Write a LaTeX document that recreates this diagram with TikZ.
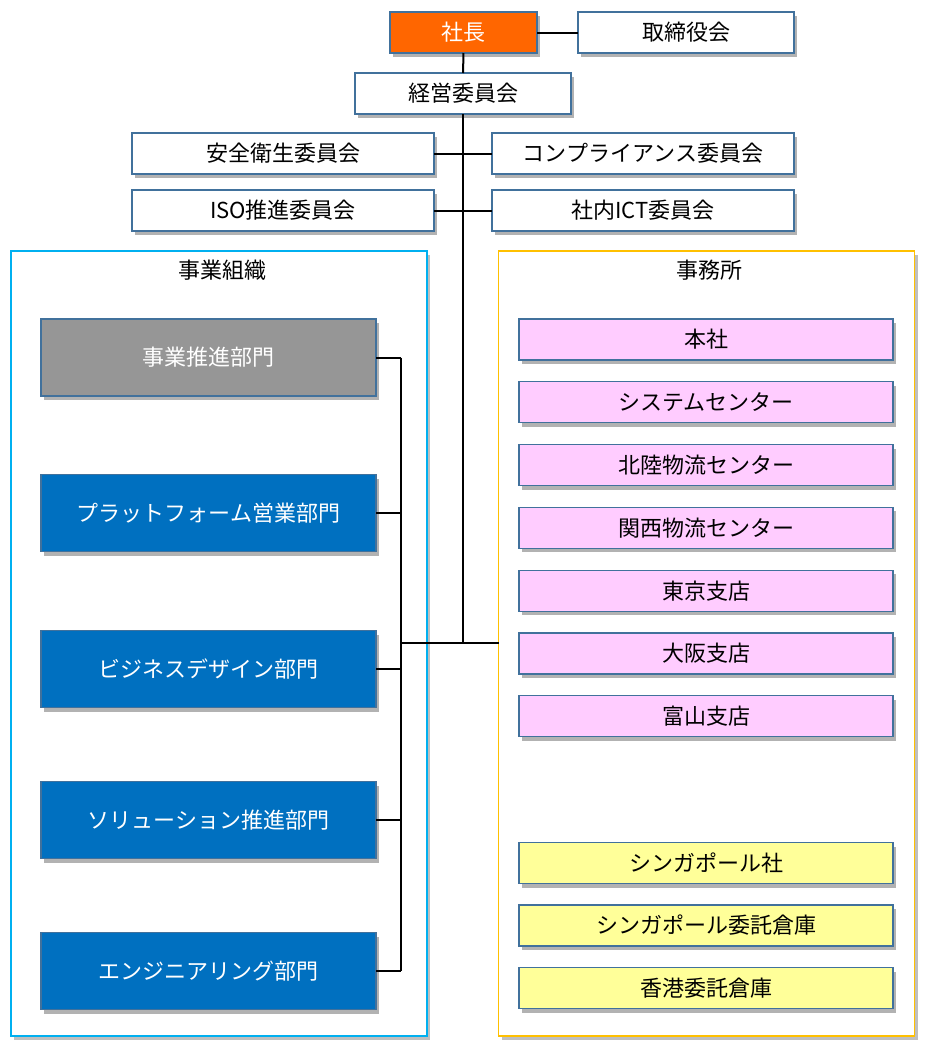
\documentclass[tikz,border=0pt]{standalone}
\usepackage{fontspec}
\setmainfont{Noto Sans CJK JP}
\usetikzlibrary{shadows}
\definecolor{bordoBlu}{RGB}{65, 113, 156}
\definecolor{arancio}{RGB}{255, 102, 0}
\definecolor{grigioBox}{RGB}{150, 150, 150}
\definecolor{bluBox}{RGB}{0, 112, 192}
\definecolor{rosaBox}{RGB}{255, 204, 255}
\definecolor{gialloBox}{RGB}{255, 255, 153}
\definecolor{ciano}{RGB}{0, 176, 240}
\definecolor{oro}{RGB}{255, 192, 0}

\begin{document}
\begin{tikzpicture}[x=1pt, y=-1pt,
    box/.style={draw=bordoBlu, line width=1.3pt, fill=white, inner sep=0pt, outer sep=0pt,
        minimum height=41pt, font=\fontsize{22}{25}\selectfont,
        drop shadow={shadow xshift=3pt, shadow yshift=-4pt, opacity=0.3, fill=black}},
    dept/.style={box, fill=bluBox, text=white, minimum width=335pt, minimum height=77pt},
    office/.style={box, minimum width=374pt},
    container/.style={line width=1.4pt, fill=white, inner sep=0pt, outer sep=0pt,
        minimum width=416pt, minimum height=785pt,
        drop shadow={shadow xshift=3pt, shadow yshift=-4pt, opacity=0.25, fill=black}},
    conn/.style={black, line width=2pt}]
    \useasboundingbox (0,0) rectangle (933,1055);

    % Containers
    \node[container, draw=ciano] (soshiki) at (219,643.5) {};
    \node[container, draw=oro] (jimusho) at (706.5,643.5) {};
    \node[font=\fontsize{22}{25}\selectfont] (soshikiTitolo) at (222,270) {事業組織};
    \node[font=\fontsize{22}{25}\selectfont] (jimushoTitolo) at (709,270) {事務所};

    % Top management
    \node[box, fill=arancio, text=white, minimum width=147pt] (shacho) at (463.5,32.5) {社長};
    \node[box, minimum width=216pt] (torishimari) at (686,32.5) {取締役会};
    \node[box, minimum width=216pt] (keiei) at (463,93.5) {経営委員会};

    % Committees
    \node[box, minimum width=302pt] (anzen) at (283,153.5) {安全衛生委員会};
    \node[box, minimum width=302pt] (compliance) at (643,153.5) {コンプライアンス委員会};
    \node[box, minimum width=302pt] (iso) at (283,210.5) {ISO推進委員会};
    \node[box, minimum width=302pt] (ict) at (643,210.5) {社内ICT委員会};

    % Business departments
    \node[dept, fill=grigioBox] (dept1) at (208.5,357.5) {事業推進部門};
    \node[dept] (dept2) at (208.5,513) {プラットフォーム営業部門};
    \node[dept] (dept3) at (208.5,669) {ビジネスデザイン部門};
    \node[dept] (dept4) at (208.5,820) {ソリューション推進部門};
    \node[dept] (dept5) at (208.5,971) {エンジニアリング部門};

    % Offices
    \foreach \nome [count=\i from 0] in {本社, システムセンター, 北陸物流センター, 関西物流センター, 東京支店, 大阪支店, 富山支店}
        \node[office, fill=rosaBox] (ufficio\i) at (706,339.5+62.8*\i) {\nome};
    \foreach \nome [count=\i from 0] in {シンガポール社, シンガポール委託倉庫, 香港委託倉庫}
        \node[office, fill=gialloBox] (estero\i) at (706,863+62.5*\i) {\nome};

    % Connectors
    \coordinate (bus) at (401,357.5);
    \coordinate (hub) at (463,643);
    \draw[conn] (shacho) -- (torishimari);
    \draw[conn] (shacho) -- (keiei);
    \draw[conn] (keiei) -- (hub);
    \draw[conn] (anzen) -- (compliance);
    \draw[conn] (iso) -- (ict);
    \foreach \d in {dept1, dept2, dept3, dept4, dept5}
        \draw[conn] (\d.east) -- (\d.east -| bus);
    \draw[conn] (bus) -- (bus |- dept5.east);
    \draw[conn] (hub -| bus) -- (hub -| jimusho.west);
\end{tikzpicture}
\end{document}
